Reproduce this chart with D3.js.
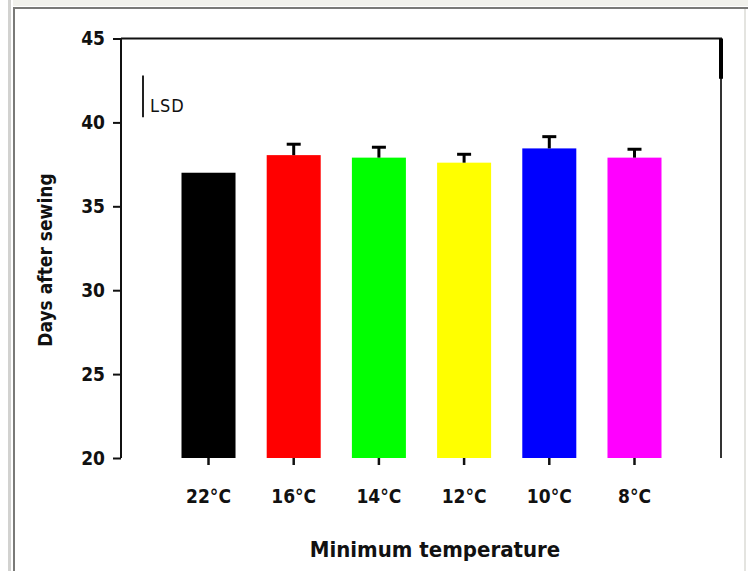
<!DOCTYPE html>
<html lang="en">
<head>
  <meta charset="UTF-8" />
  <title>Days after sewing by minimum temperature</title>
  <script src="https://d3js.org/d3.v7.min.js"></script>
  <style>
    body {
      margin: 0;
      background: white;
    }
    svg text {
      font-family: "DejaVu Sans Condensed", "DejaVu Sans", sans-serif;
      fill: #111;
    }
  </style>
</head>
<body>

<svg width="748" height="571"></svg>

<script>
  const categories = ["22°C", "16°C", "14°C", "12°C", "10°C", "8°C"];
  const means = [37.0, 38.05, 37.9, 37.6, 38.45, 37.9];
  const errors = [0, 0.65, 0.62, 0.5, 0.7, 0.5];
  const colors = ["#000000", "#ff0000", "#00ff00", "#ffff00", "#0000ff", "#ff00ff"];
  const yTicks = [20, 25, 30, 35, 40, 45];
  const lsd = [40.3, 42.8];

  const svg = d3.select("svg");

  // page frame
  svg.append("rect").attr("x", 13).attr("y", 0).attr("width", 735).attr("height", 6).attr("fill", "#f1f1ec");
  svg.append("rect").attr("x", 8).attr("y", 0).attr("width", 3).attr("height", 571).attr("fill", "#d2d2d0");
  svg.append("rect").attr("x", 13).attr("y", 7).attr("width", 2).attr("height", 564).attr("fill", "#7a7a78");
  svg.append("rect").attr("x", 13).attr("y", 7).attr("width", 735).attr("height", 2).attr("fill", "#7a7a78");
  svg.append("rect").attr("x", 744).attr("y", 9).attr("width", 2).attr("height", 562).attr("fill", "#e4e4e0");

  const x = d3.scaleBand()
    .domain(categories)
    .range([181.5, 661.5])
    .paddingInner(0.366)
    .paddingOuter(0);

  const y = d3.scaleLinear()
    .domain([20, 45])
    .range([458, 38.5]);

  const left = 121, right = 721;

  // Y axis
  const yAxis = svg.append("g")
    .attr("transform", `translate(${left},0)`)
    .call(d3.axisLeft(y).tickValues(yTicks).tickSize(8).tickPadding(8));
  yAxis.select(".domain").remove();
  yAxis.selectAll("line").attr("stroke", "#111").attr("stroke-width", 2);
  yAxis.selectAll("text")
    .style("font-size", "19px")
    .style("font-weight", "bold")
    .attr("fill", "#111");

  svg.append("line")
    .attr("x1", left).attr("x2", left)
    .attr("y1", y(45)).attr("y2", y(20))
    .attr("stroke", "#111").attr("stroke-width", 2);

  // top and right frame
  svg.append("line")
    .attr("x1", left).attr("x2", right + 1)
    .attr("y1", y(45)).attr("y2", y(45))
    .attr("stroke", "#111").attr("stroke-width", 2);
  svg.append("line")
    .attr("x1", right).attr("x2", right)
    .attr("y1", y(45)).attr("y2", y(20))
    .attr("stroke", "#333").attr("stroke-width", 2);
  svg.append("line")
    .attr("x1", right).attr("x2", right)
    .attr("y1", y(45)).attr("y2", y(42.6))
    .attr("stroke", "#000").attr("stroke-width", 4);

  // X axis (ticks only)
  const xAxis = svg.append("g")
    .attr("transform", `translate(0,${y(20)})`)
    .call(d3.axisBottom(x).tickSize(7).tickPadding(25));
  xAxis.select(".domain").remove();
  xAxis.selectAll("line").attr("stroke", "#111").attr("stroke-width", 2.5);
  xAxis.selectAll("text")
    .style("font-size", "19px")
    .style("font-weight", "bold")
    .attr("fill", "#111");

  // bars
  svg.selectAll("rect.bar")
    .data(categories)
    .enter()
    .append("rect")
    .attr("class", "bar")
    .attr("x", d => x(d))
    .attr("y", (d, i) => y(means[i]))
    .attr("width", x.bandwidth())
    .attr("height", (d, i) => y(20) - y(means[i]))
    .attr("fill", (d, i) => colors[i]);

  // error bars
  const errData = categories.map((c, i) => ({ c, m: means[i], e: errors[i] })).filter(d => d.e > 0);
  const cx = d => x(d.c) + x.bandwidth() / 2;
  svg.selectAll("line.stem")
    .data(errData)
    .enter()
    .append("line")
    .attr("x1", cx).attr("x2", cx)
    .attr("y1", d => y(d.m)).attr("y2", d => y(d.m + d.e))
    .attr("stroke", "#000").attr("stroke-width", 3);
  svg.selectAll("line.cap")
    .data(errData)
    .enter()
    .append("line")
    .attr("x1", d => cx(d) - 7).attr("x2", d => cx(d) + 7)
    .attr("y1", d => y(d.m + d.e)).attr("y2", d => y(d.m + d.e))
    .attr("stroke", "#000").attr("stroke-width", 3);

  // LSD marker
  svg.append("line")
    .attr("x1", 143).attr("x2", 143)
    .attr("y1", y(lsd[0])).attr("y2", y(lsd[1]))
    .attr("stroke", "#222").attr("stroke-width", 2);
  svg.append("text")
    .attr("x", 150).attr("y", y(lsd[0]) - 5)
    .style("font-size", "18px")
    .style("letter-spacing", "1px")
    .attr("fill", "#333")
    .text("LSD");

  // axis titles
  svg.append("text")
    .attr("x", 435).attr("y", 557)
    .attr("text-anchor", "middle")
    .style("font-size", "22px")
    .style("font-weight", "bold")
    .text("Minimum temperature");

  svg.append("text")
    .attr("transform", "translate(52,260) rotate(-90)")
    .attr("text-anchor", "middle")
    .style("font-size", "19px")
    .style("font-weight", "bold")
    .text("Days after sewing");
</script>

</body>
</html>
